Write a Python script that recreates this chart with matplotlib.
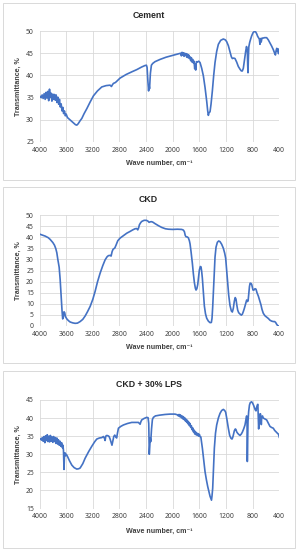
import numpy as np
import matplotlib
matplotlib.use("Agg")
import matplotlib.pyplot as plt
from matplotlib.patches import Rectangle

plt.rcParams['font.family'] = ['Noto Sans', 'DejaVu Sans']
BOLD_FAMILY = ['Liberation Sans', 'DejaVu Sans']

# --- DATA (wave number, transmittance %) ---
cement_wn = [4000, 3990, 3975, 3960, 3945, 3930, 3915, 3900, 3888, 3875, 3862, 3850, 3838, 3826, 3814, 3800,
             3788, 3775, 3762, 3750, 3738, 3725, 3712, 3700, 3688, 3675, 3662, 3650, 3638, 3625, 3612, 3600,
             3580, 3550, 3520, 3490, 3460, 3440, 3420, 3390, 3365, 3330, 3290, 3240, 3190, 3130, 3065, 3000,
             2940, 2920, 2905, 2890, 2860, 2790, 2700, 2615, 2540, 2465, 2420, 2395, 2385, 2372, 2362, 2355,
             2348, 2335, 2320, 2300, 2265, 2190, 2100, 2000, 1930, 1880, 1870, 1860, 1850, 1840, 1830, 1820,
             1810, 1800, 1790, 1780, 1770, 1760, 1750, 1740, 1730, 1720, 1710, 1700, 1690, 1680, 1670, 1662,
             1655, 1645, 1630, 1610, 1590, 1565, 1540, 1515, 1490, 1475, 1465, 1455, 1440, 1425, 1405, 1385,
             1365, 1340, 1315, 1280, 1240, 1210, 1190, 1165, 1140, 1120, 1105, 1085, 1065, 1040, 1015, 990,
             970, 955, 940, 925, 905, 892, 880, 875, 870, 865, 858, 845, 830, 815, 795, 775, 755, 740, 725,
             712, 700, 690, 682, 672, 660, 645, 620, 590, 565, 540, 515, 490, 470, 458, 448, 438, 428, 420,
             412, 405, 400]
cement_t = [35.2, 35.3, 35.0, 35.6, 34.8, 35.9, 34.6, 36.2, 34.9, 36.4, 34.3, 36.9, 35.1, 36.0, 34.2, 35.8,
            34.6, 35.7, 34.4, 35.6, 33.9, 35.1, 33.5, 34.6, 32.9, 33.6, 32.0, 32.8, 31.4, 32.0, 30.9, 31.3,
            30.5, 30.1, 29.7, 29.3, 28.9, 28.8, 29.1, 29.8, 30.3, 31.4, 32.5, 34.0, 35.4, 36.5, 37.4, 37.7,
            37.8, 37.5, 37.9, 38.2, 38.4, 39.4, 40.2, 40.8, 41.3, 41.9, 42.2, 42.3, 41.8, 38.5, 36.5, 37.8,
            37.0, 40.5, 42.3, 42.7, 43.1, 43.6, 44.1, 44.5, 44.8, 45.0, 44.4, 45.2, 44.6, 45.1, 44.3, 45.0,
            44.5, 44.9, 44.1, 44.8, 44.0, 44.6, 43.8, 44.2, 43.3, 44.0, 43.0, 43.6, 42.8, 43.2, 41.5, 42.6,
            41.2, 43.1, 43.0, 43.2, 42.9, 41.6, 39.9, 37.3, 34.2, 32.0, 31.0, 31.6, 31.8, 33.5, 36.5, 40.0,
            42.9, 45.4, 47.0, 47.9, 48.2, 48.0, 47.6, 46.7, 45.3, 44.2, 43.8, 43.9, 43.8, 43.0, 42.0, 41.4,
            41.0, 41.0, 41.6, 43.2, 45.4, 46.5, 45.6, 42.5, 40.6, 43.5, 46.4, 47.4, 48.2, 48.9, 49.6, 49.9,
            49.8, 49.4, 48.8, 48.5, 48.2, 47.0, 48.3, 47.5, 48.4, 48.4, 48.5, 48.5, 48.0, 47.3, 46.6, 45.8,
            45.0, 44.6, 45.6, 46.1, 45.4, 46.0, 44.9, 45.4, 45.1]

ckd_wn = [4000, 3960, 3915, 3870, 3840, 3800, 3775, 3755, 3740, 3725, 3705, 3690, 3675, 3662, 3652, 3645,
          3632, 3622, 3610, 3590, 3565, 3540, 3500, 3465, 3430, 3390, 3350, 3315, 3280, 3240, 3200, 3165,
          3130, 3090, 3050, 3015, 2985, 2965, 2940, 2925, 2910, 2895, 2870, 2850, 2825, 2790, 2740, 2690,
          2640, 2600, 2565, 2540, 2525, 2512, 2500, 2480, 2465, 2430, 2395, 2370, 2355, 2340, 2320, 2300,
          2265, 2215, 2165, 2110, 2065, 2000, 1930, 1865, 1840, 1825, 1812, 1800, 1780, 1765, 1750, 1740,
          1725, 1705, 1690, 1675, 1660, 1650, 1638, 1625, 1612, 1600, 1585, 1575, 1565, 1555, 1540, 1525,
          1508, 1490, 1465, 1440, 1420, 1410, 1400, 1390, 1378, 1365, 1350, 1330, 1310, 1290, 1265, 1240,
          1220, 1205, 1190, 1175, 1160, 1140, 1120, 1105, 1090, 1075, 1062, 1050, 1038, 1025, 1010, 990,
          970, 955, 940, 925, 905, 890, 878, 868, 858, 848, 838, 825, 815, 805, 795, 780, 765, 750, 735,
          715, 700, 685, 675, 660, 640, 615, 590, 565, 540, 515, 490, 470, 455, 440, 425, 410, 400]
ckd_t = [41.4, 41.0, 40.5, 39.8, 39.0, 37.6, 36.4, 34.8, 33.0, 30.0, 26.5, 21.0, 13.5, 7.0, 3.2, 3.6,
         6.4, 6.0, 4.2, 3.2, 2.4, 1.8, 1.4, 1.2, 1.3, 2.0, 3.0, 4.5, 6.4, 8.8, 12.0, 15.6,
         19.8, 23.8, 27.2, 29.8, 31.2, 31.7, 31.8, 31.5, 33.5, 34.6, 35.1, 36.5, 38.4, 39.6, 40.7, 41.8,
         42.6, 43.3, 43.8, 43.9, 43.3, 44.2, 45.6, 46.6, 47.1, 47.6, 47.6, 47.2, 46.7, 46.9, 47.0, 46.8,
         46.1, 45.2, 44.4, 43.8, 43.6, 43.5, 43.6, 43.5, 43.2, 42.5, 40.8, 40.2, 40.1, 39.7, 38.4, 37.0,
         33.5, 28.2, 23.5, 19.6, 17.0, 16.2, 16.8, 18.6, 22.0, 25.2, 26.8, 26.6, 24.5, 21.5, 15.5, 9.0,
         5.5, 3.5, 2.2, 1.5, 1.6, 3.5, 8.5, 14.7, 22.0, 31.0, 35.5, 37.7, 38.3, 38.0, 36.8, 35.0,
         32.8, 30.5, 25.0, 19.2, 14.0, 9.2, 6.8, 6.3, 8.0, 11.2, 12.8, 12.1, 9.5, 7.2, 6.0, 5.4,
         4.9, 5.3, 6.5, 7.9, 10.0, 11.7, 11.0, 11.4, 14.5, 17.8, 19.3, 19.2, 18.8, 17.5, 16.2, 16.2, 16.8, 16.6, 15.0,
         13.5, 12.0, 10.6, 9.5, 7.5, 5.7, 4.6, 4.0, 3.4, 2.6, 2.2, 2.0, 2.0, 1.6, 0.8, 0.2, 0.0, 0.0]

lps_wn = [4000, 3985, 3970, 3958, 3945, 3932, 3920, 3908, 3896, 3884, 3872, 3860, 3848, 3836, 3824, 3812,
          3800, 3788, 3776, 3764, 3752, 3740, 3728, 3716, 3704, 3692, 3680, 3668, 3656, 3648, 3640, 3632,
          3626, 3618, 3608, 3598, 3580, 3550, 3515, 3480, 3440, 3410, 3390, 3350, 3315, 3260, 3215, 3170,
          3140, 3100, 3065, 3040, 3025, 3015, 3005, 2990, 2970, 2955, 2940, 2925, 2912, 2900, 2885, 2870,
          2855, 2842, 2828, 2815, 2780, 2740, 2680, 2615, 2560, 2515, 2500, 2490, 2478, 2465, 2430, 2390,
          2370, 2360, 2352, 2345, 2338, 2330, 2318, 2305, 2290, 2260, 2200, 2115, 2040, 1965, 1930, 1915,
          1905, 1895, 1885, 1870, 1860, 1850, 1840, 1830, 1820, 1810, 1800, 1790, 1780, 1770, 1760, 1750,
          1740, 1730, 1720, 1710, 1700, 1690, 1680, 1670, 1660, 1650, 1640, 1630, 1620, 1610, 1600, 1590,
          1578, 1565, 1555, 1535, 1515, 1495, 1475, 1455, 1440, 1428, 1418, 1410, 1400, 1388, 1375, 1358,
          1340, 1315, 1290, 1265, 1240, 1220, 1205, 1185, 1165, 1145, 1125, 1110, 1100, 1090, 1075, 1060,
          1050, 1040, 1025, 1010, 990, 970, 955, 935, 915, 905, 898, 890, 884, 880, 876, 870, 860, 848,
          835, 815, 800, 785, 775, 762, 750, 740, 730, 722, 716, 710, 704, 696, 690, 684, 676, 670, 664,
          652, 640, 620, 590, 565, 540, 515, 490, 470, 455, 440, 428, 415, 405, 400]
lps_t = [34.1, 34.3, 33.9, 34.6, 33.6, 34.9, 33.2, 35.1, 33.8, 35.4, 33.5, 35.0, 33.4, 35.2, 33.6, 34.8,
         33.3, 34.9, 33.5, 34.6, 33.0, 34.5, 32.8, 34.0, 32.5, 33.6, 32.2, 33.2, 31.8, 32.5, 31.0, 25.8,
         29.2, 30.4, 29.6, 30.0, 29.4, 28.2, 27.0, 26.3, 25.9, 26.0, 26.2, 27.4, 28.9, 30.8, 32.2, 33.5,
         34.2, 34.5, 34.6, 34.9, 34.4, 33.8, 35.0, 35.2, 35.1, 34.9, 34.2, 33.3, 32.5, 33.6, 34.9, 35.3,
         34.8, 34.5, 36.0, 37.2, 37.7, 38.1, 38.5, 38.8, 38.8, 38.8, 38.5, 38.3, 39.0, 39.5, 39.9, 40.2,
         40.1, 38.5, 30.0, 32.0, 34.5, 33.5, 37.0, 39.6, 40.2, 40.6, 40.8, 41.0, 41.1, 41.1, 40.9, 40.6,
         41.0, 40.4, 40.9, 40.1, 40.6, 39.8, 40.4, 39.6, 40.1, 39.2, 39.7, 38.8, 39.4, 38.4, 38.9, 37.9,
         38.5, 37.4, 37.9, 36.8, 37.3, 36.2, 36.7, 35.6, 36.3, 35.4, 35.9, 35.2, 35.7, 35.0, 35.5, 34.9,
         34.8, 33.0, 31.7, 28.5, 25.2, 23.0, 21.1, 19.5, 18.4, 17.8, 17.3, 18.5, 20.6, 26.0, 31.7, 35.8,
         38.1, 40.0, 41.3, 42.1, 42.4, 42.1, 41.6, 39.5, 37.2, 35.2, 34.4, 34.2, 34.6, 35.3, 36.5, 37.0,
         36.8, 36.2, 35.8, 35.5, 35.2, 35.6, 36.1, 37.0, 38.1, 39.2, 39.9, 40.6, 38.5, 28.0, 32.0, 39.0, 41.8, 43.6,
         44.3, 44.5, 44.1, 43.5, 43.0, 42.3, 42.0, 43.0, 43.6, 43.8, 40.0, 37.0, 39.0, 41.0, 40.5, 41.2, 40.0, 38.2, 40.4,
         40.6, 40.0, 39.8, 39.5, 38.6, 37.7, 37.4, 37.2, 36.6, 36.3, 36.0, 35.8, 35.6, 35.1, 34.7]

titles = ["Cement", "CKD", "CKD + 30% LPS"]
ylims = [(25, 50), (0, 50), (15, 45)]
ysteps = [5, 5, 5]
xticks = list(range(4000, 399, -400))

# --- LAYOUT (pixel positions of the reference, 297 x 550) ---
W, H = 297, 550
LINE_COLOR = '#4472C4'
GRID_COLOR = '#d9d9d9'
TEXT_COLOR = '#404040'

# (axes top, axes bottom, box top, box bottom, title y, xlabel y)
panels = [
    (31, 142, 3.3, 180, 15, 163.5),
    (215, 326, 187, 362.7, 199.5, 347),
    (400, 508.5, 371, 547.7, 384.5, 531),
]
AX_LEFT, AX_RIGHT = 39.5, 279.3

fig = plt.figure(figsize=(W / 100, H / 100), dpi=100)
fig.patch.set_facecolor('white')

series = [(cement_wn, cement_t), (ckd_wn, ckd_t), (lps_wn, lps_t)]

for i, (wn, t) in enumerate(series):
    ax_top, ax_bot, box_top, box_bot, title_y, xlab_y = panels[i]

    box = Rectangle((3.3 / W, 1 - box_bot / H), (295 - 3.3) / W, (box_bot - box_top) / H,
                    transform=fig.transFigure, fill=False, edgecolor=GRID_COLOR, linewidth=0.7)
    fig.patches.append(box)

    ax = fig.add_axes([AX_LEFT / W, 1 - ax_bot / H, (AX_RIGHT - AX_LEFT) / W, (ax_bot - ax_top) / H])
    ax.plot(wn, t, color=LINE_COLOR, linewidth=1.2, solid_joinstyle='round')
    ax.set_xlim(4000, 400)
    lo, hi = ylims[i]
    ax.set_ylim(lo, hi)
    ax.set_xticks(xticks)
    ax.set_yticks(np.arange(lo, hi + 0.1, ysteps[i]))
    ax.grid(True, color=GRID_COLOR, linewidth=0.6)
    ax.set_axisbelow(True)
    for s in ax.spines.values():
        s.set_visible(False)
    ax.tick_params(length=0, labelsize=4.9, colors=TEXT_COLOR)
    ax.tick_params(axis='x', pad=3.5)
    ax.tick_params(axis='y', pad=4)

    fig.text(0.5, 1 - title_y / H, titles[i], ha='center', va='center', family=BOLD_FAMILY,
             fontsize=6.3, fontweight='bold', color='#262626')
    fig.text((AX_LEFT + AX_RIGHT) / 2 / W, 1 - xlab_y / H, "Wave number, cm⁻¹", family=BOLD_FAMILY,
             ha='center', va='center', fontsize=5.1, fontweight='bold', color=TEXT_COLOR)
    fig.text(18.3 / W, 1 - (ax_top + ax_bot) / 2 / H, "Transmittance, %", rotation=90, family=BOLD_FAMILY,
             ha='center', va='center', fontsize=5.1, fontweight='bold', color=TEXT_COLOR)

fig.savefig("out.png", dpi=100)
